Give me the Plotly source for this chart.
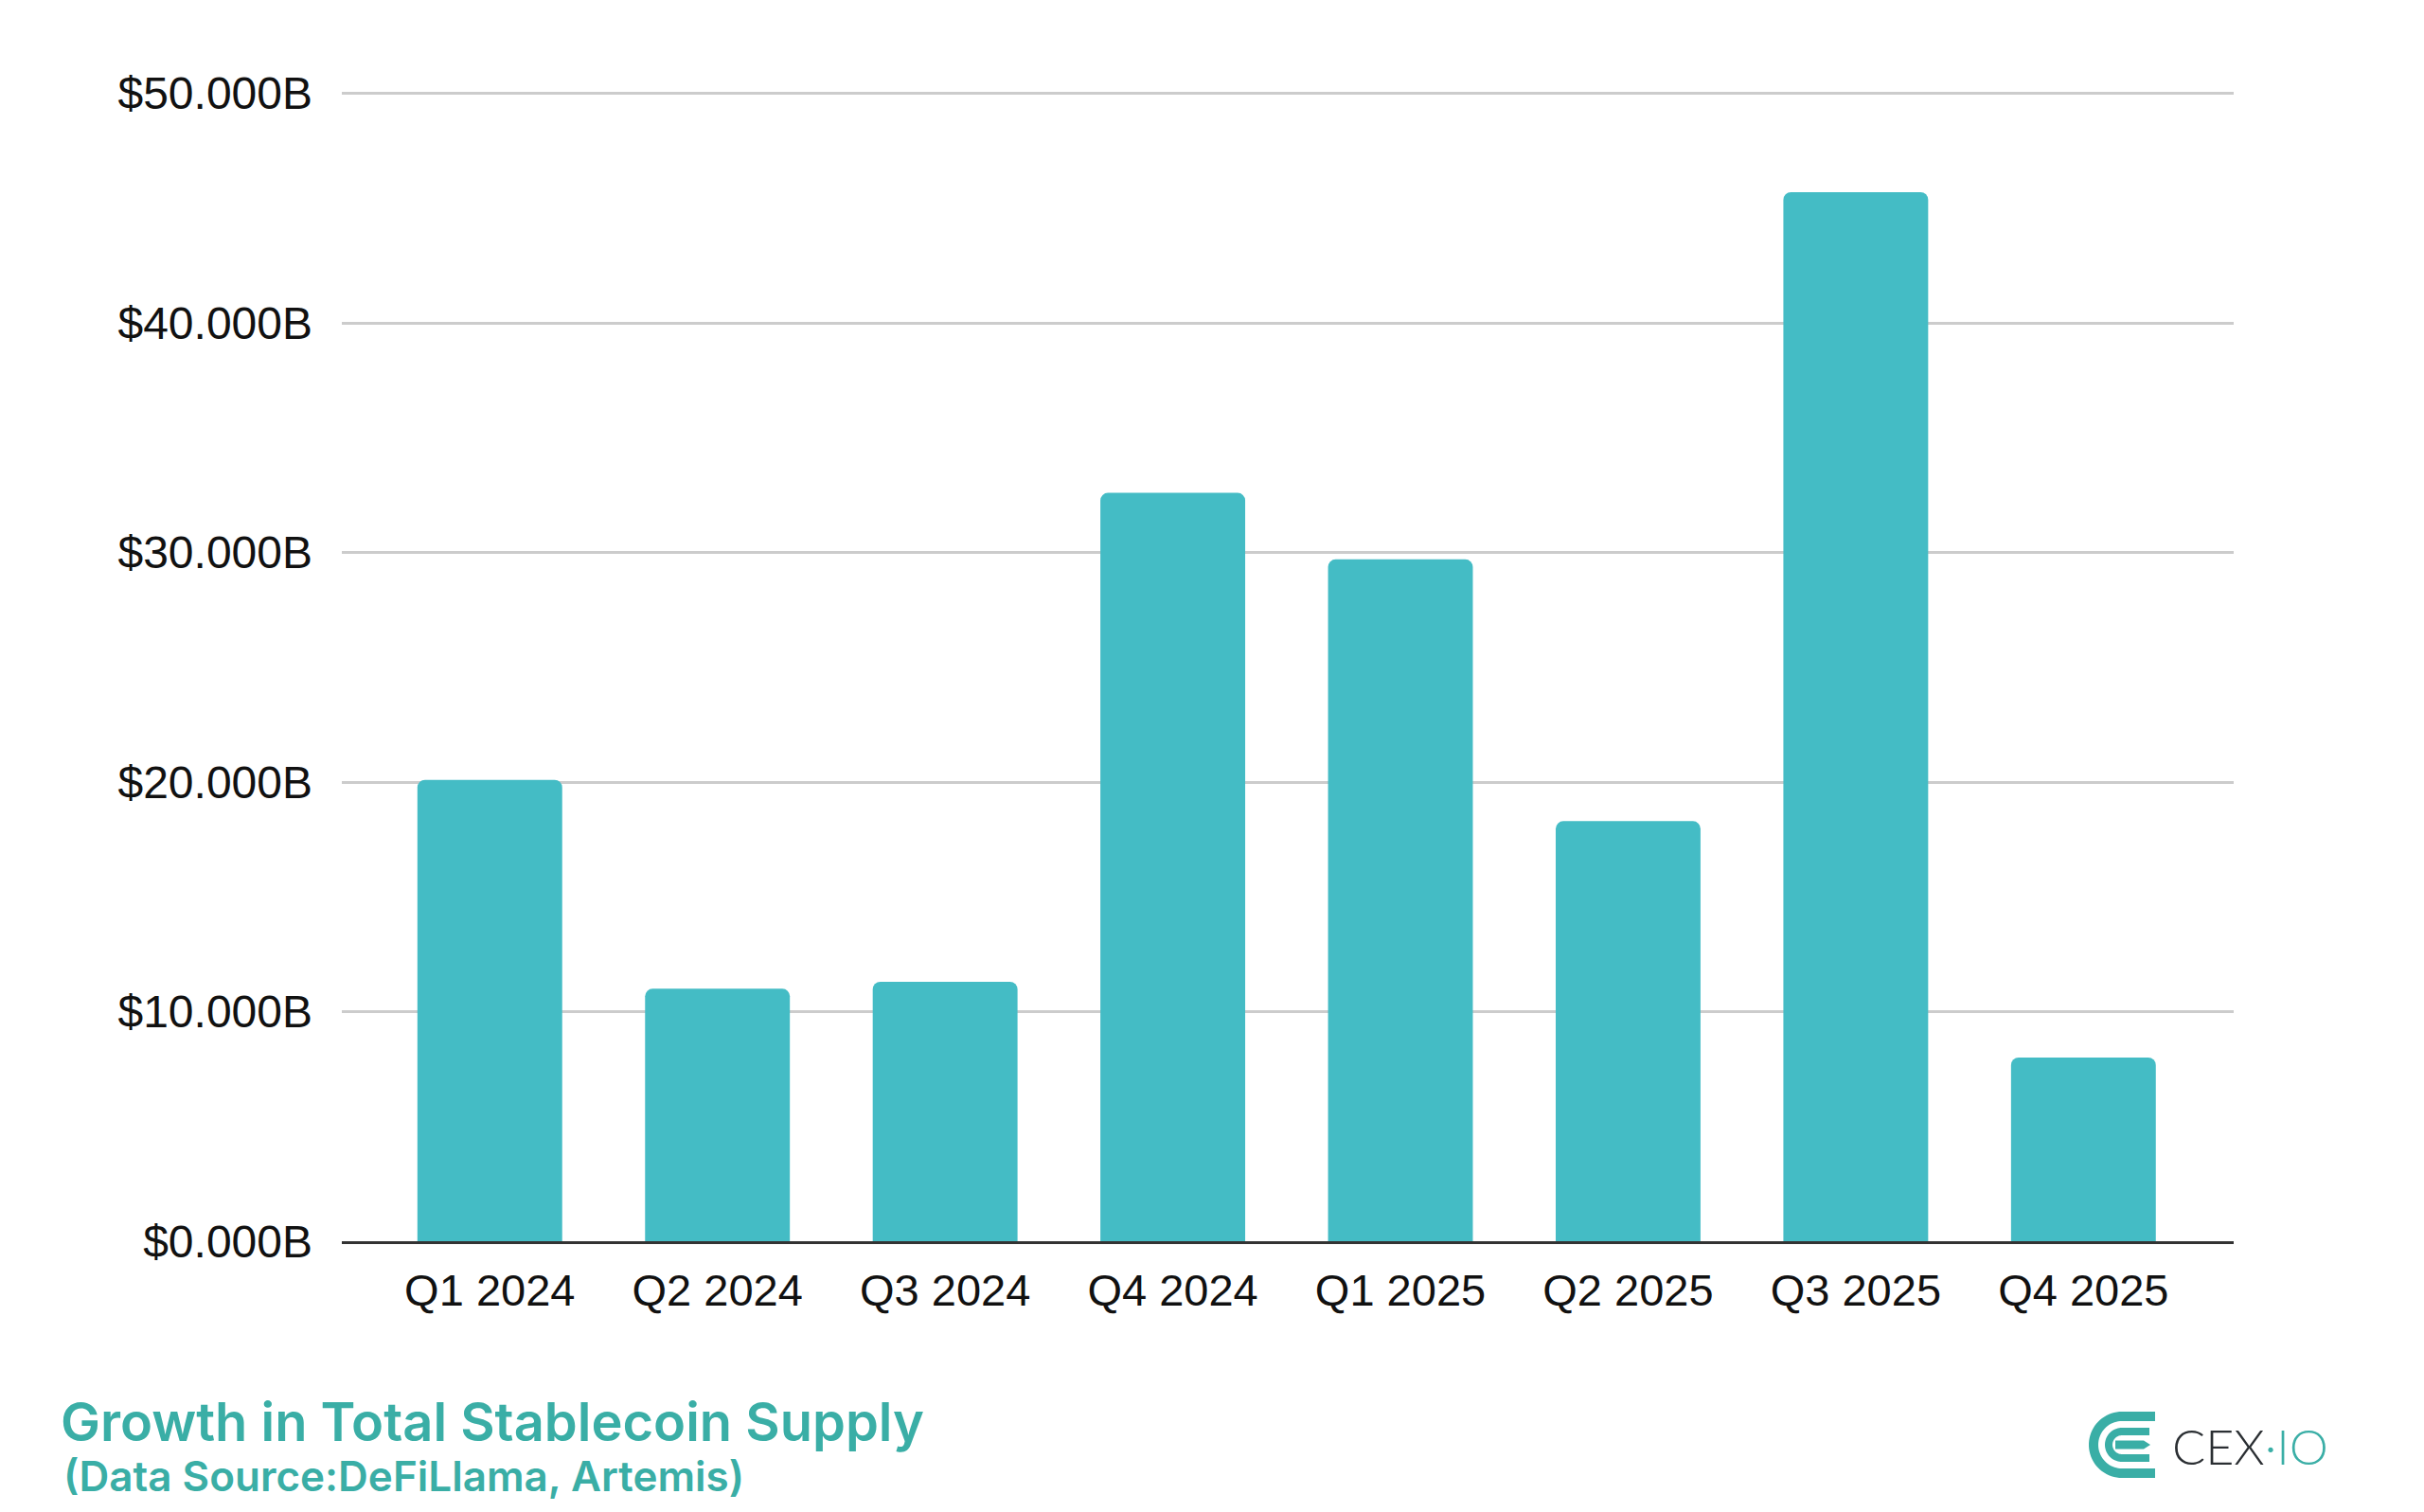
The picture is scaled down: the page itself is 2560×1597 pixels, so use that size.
import numpy as np
import plotly.graph_objects as go

# ---- data ----
categories = ["Q1 2024", "Q2 2024", "Q3 2024", "Q4 2024",
              "Q1 2025", "Q2 2025", "Q3 2025", "Q4 2025"]
supply_growth_b = [20.1, 11.0, 11.3, 32.6, 29.7, 18.3, 45.7, 8.0]
y_ticks = [0, 10, 20, 30, 40, 50]
y_tick_labels = ["$0.000B", "$10.000B", "$20.000B", "$30.000B", "$40.000B", "$50.000B"]

title_text = "Growth in Total Stablecoin Supply"
subtitle_text = "(Data Source:DeFiLlama, Artemis)"

W, H = 2560, 1597
L, R, T, B = 353, 2560 - 2351, 88, 1597 - 1303
PW, PH = W - L - R, H - T - B

BAR = "#44BCC5"
TEAL = "#3AAEA6"


def px(xp):
    return (xp - L) / PW


def py(yp):
    return (H - B - yp) / PH


fig = go.Figure()
fig.add_trace(go.Bar(
    x=list(range(len(categories))), y=supply_growth_b,
    marker=dict(color=BAR, cornerradius=8, line=dict(width=0)),
    width=0.636, hoverinfo="skip",
))

fig.update_layout(
    width=W, height=H,
    margin=dict(l=L, r=R, t=T, b=B),
    paper_bgcolor="white", plot_bgcolor="white",
    showlegend=False,
    font=dict(family="Liberation Sans, Arial, sans-serif", size=48, color="#111111"),
    xaxis=dict(
        range=[-0.65, 7.66],
        tickmode="array", tickvals=list(range(len(categories))), ticktext=categories,
        showgrid=False, zeroline=False,
        showline=True, linecolor="#333333", linewidth=3,
        ticks="", ticklabelstandoff=9,
        tickfont=dict(size=47, color="#111111"),
        fixedrange=True,
    ),
    yaxis=dict(
        range=[0, 50.11],
        tickmode="array", tickvals=y_ticks, ticktext=y_tick_labels,
        showgrid=True, gridcolor="#CCCCCC", gridwidth=3,
        zeroline=False, showline=False,
        ticks="", ticklabelstandoff=30,
        tickfont=dict(size=48, color="#111111"),
        fixedrange=True,
    ),
)

# titles
fig.add_annotation(
    text=title_text, xref="paper", yref="paper",
    x=px(54), y=py(1494), xanchor="left", yanchor="middle",
    showarrow=False,
    font=dict(family="Inter, Lato, sans-serif", size=56, color=TEAL, weight=600),
)
fig.add_annotation(
    text=subtitle_text, xref="paper", yref="paper",
    x=px(57), y=py(1551), xanchor="left", yanchor="middle",
    showarrow=False,
    font=dict(family="Inter, Lato, sans-serif", size=44, color=TEAL, weight=600),
)

# ---- logo (decoration) ----
def c_shape(cx, cy, Ro, Ri, xend, n=40):
    pts = [(xend, cy - Ro), (cx, cy - Ro)]
    for a in np.linspace(np.pi / 2, 3 * np.pi / 2, n):
        pts.append((cx + Ro * np.cos(a), cy - Ro * np.sin(a)))
    pts += [(cx, cy + Ro), (xend, cy + Ro), (xend, cy + Ri), (cx, cy + Ri)]
    for a in np.linspace(3 * np.pi / 2, np.pi / 2, n):
        pts.append((cx + Ri * np.cos(a), cy - Ri * np.sin(a)))
    pts += [(cx, cy - Ri), (xend, cy - Ri)]
    return pts


def to_path(pts):
    s = "M " + " L ".join(f"{px(a):.5f},{py(b):.5f}" for a, b in pts) + " Z"
    return s


cx, cy = 2233, 1518
fig.add_shape(type="path", xref="paper", yref="paper",
              path=to_path(c_shape(cx, cy, 35, 25, 2268)),
              fillcolor=TEAL, line=dict(width=0))
fig.add_shape(type="path", xref="paper", yref="paper",
              path=to_path(c_shape(cx, cy, 18, 10, 2262)),
              fillcolor=TEAL, line=dict(width=0))
mid = [(2226, cy - 4.5), (2256, cy - 4.5), (2263, cy), (2256, cy + 4.5), (2226, cy + 4.5)]
fig.add_shape(type="path", xref="paper", yref="paper",
              path=to_path(mid), fillcolor=TEAL, line=dict(width=0))

fig.add_annotation(
    text="CEX<span style='color:#3AAEA6'>·IO</span>",
    xref="paper", yref="paper", x=px(2284), y=py(1519),
    xanchor="left", yanchor="middle", showarrow=False,
    font=dict(family="Lato, sans-serif", size=52, color="#2B2F33", weight=300),
)

fig.write_html("out.html")
